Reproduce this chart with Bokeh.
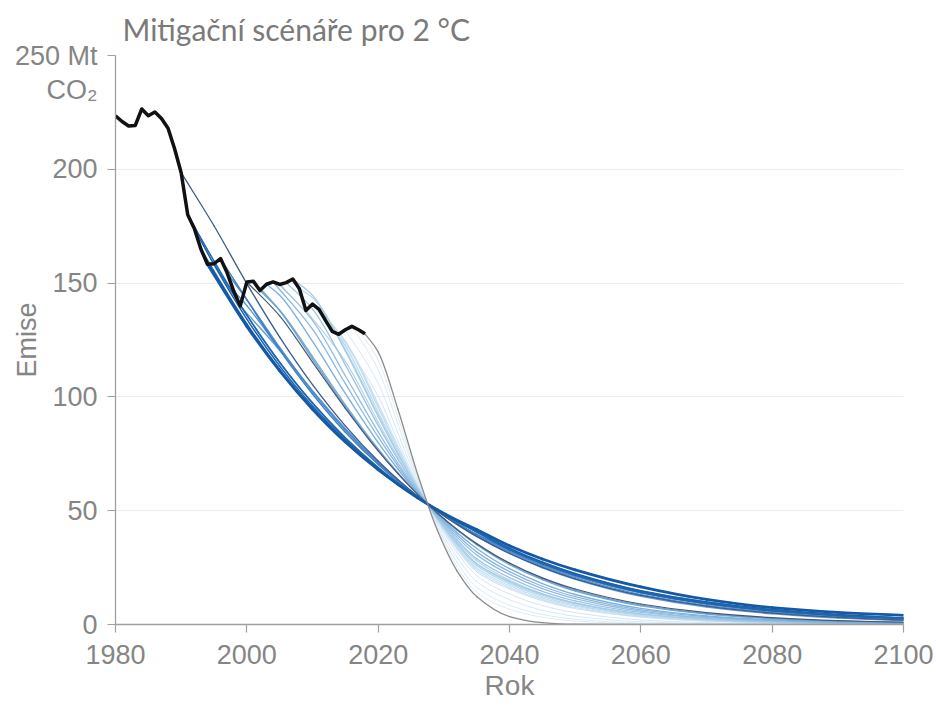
import math
from bokeh.plotting import figure
from bokeh.models import Range1d, FixedTicker, LinearAxis
from bokeh.embed import file_html
from bokeh.resources import INLINE

# Historical emissions (Mt CO2)
HIST_YEARS = list(range(1980, 2019))
HIST_VALUES = [223.5, 221.0, 219.0, 219.2, 226.5, 223.5, 225.2, 222.3, 218.0, 209.0,
               198.5, 180.0, 174.0, 165.0, 158.3, 158.5, 160.8, 154.5, 146.5, 140.0,
               150.5, 150.8, 146.7, 149.5, 150.5, 149.4, 150.2, 151.8, 147.5, 138.0,
               140.8, 138.5, 133.5, 128.8, 127.5, 129.5, 131.0, 129.5, 127.7]

# Years at which each mitigation scenario is read (only years >= start + 2 are used)
GRID_YEARS = [1995, 2000, 2005, 2010, 2015, 2020, 2023, 2026, 2029, 2032, 2035,
              2040, 2045, 2050, 2060, 2070, 2080, 2090, 2100]

# Mitigation scenarios: start year -> values at the grid years after the start
SCENARIOS = {
    1990: [175.2, 149.8, 126.3, 105.4, 87.3, 71.8, 63.7, 56.4, 49.8, 44.0, 38.7, 31.2, 25.1, 20.1, 12.8, 8.1, 5.0, 3.1, 1.9],
    1991: [159.7, 135.9, 115.1, 97.2, 81.9, 68.9, 62.1, 55.9, 50.3, 45.2, 40.7, 33.0, 26.8, 21.8, 14.2, 9.3, 6.1, 4.0, 2.6],
    1992: [158.1, 134.2, 113.6, 96.0, 81.1, 68.4, 61.8, 55.8, 50.4, 45.4, 40.8, 33.2, 27.1, 22.1, 14.5, 9.5, 6.3, 4.1, 2.7],
    1993: [155.1, 132.0, 112.1, 95.0, 80.5, 68.1, 61.6, 55.7, 50.4, 45.6, 41.0, 33.5, 27.4, 22.4, 14.8, 9.8, 6.5, 4.3, 2.8],
    1994: [131.0, 111.4, 94.6, 80.2, 68.0, 61.6, 55.7, 50.4, 45.8, 41.7, 34.6, 28.8, 24.0, 16.5, 11.0, 7.4, 5.3, 4.0],
    1995: [135.9, 115.3, 97.4, 82.1, 69.0, 62.1, 55.9, 50.3, 45.2, 40.6, 32.8, 26.6, 21.6, 14.0, 9.1, 5.9, 3.9, 2.5],
    1996: [142.7, 120.7, 101.3, 84.5, 70.3, 62.8, 56.1, 50.1, 44.6, 39.7, 32.7, 26.9, 22.1, 14.8, 9.9, 6.5, 4.3, 2.9],
    1997: [142.7, 121.7, 102.4, 85.4, 70.8, 63.1, 56.2, 50.0, 44.3, 39.3, 32.1, 26.1, 21.2, 13.9, 9.0, 5.8, 3.7, 2.4],
    1998: [140.1, 120.9, 102.4, 85.7, 71.1, 63.3, 56.3, 49.9, 44.2, 39.0, 31.7, 25.6, 20.6, 13.2, 8.4, 5.3, 3.3, 2.0],
    1999: [120.5, 102.7, 86.1, 71.4, 63.5, 56.3, 49.8, 44.0, 38.7, 31.2, 24.9, 19.9, 12.4, 7.7, 4.7, 2.8, 1.7],
    2000: [135.6, 115.3, 95.0, 76.3, 66.3, 57.2, 49.0, 41.8, 35.5, 27.0, 20.5, 15.6, 9.0, 5.2, 3.0, 1.7, 1.0],
    2001: [137.9, 116.6, 95.6, 76.5, 66.4, 57.2, 49.0, 41.8, 35.5, 26.7, 20.1, 15.1, 8.5, 4.8, 2.7, 1.5, 0.9],
    2002: [138.1, 117.7, 96.5, 77.1, 66.7, 57.3, 48.9, 41.5, 35.1, 26.3, 19.7, 14.7, 8.2, 4.6, 2.6, 1.4, 0.8],
    2003: [144.7, 124.4, 101.5, 79.9, 68.3, 57.8, 48.5, 40.4, 33.4, 24.5, 18.0, 13.2, 7.1, 3.8, 2.1, 1.1, 0.6],
    2004: [129.8, 105.8, 82.4, 69.7, 58.2, 48.1, 39.4, 31.9, 23.2, 16.8, 12.2, 6.4, 3.4, 1.8, 0.9, 0.5],
    2005: [133.6, 109.3, 84.6, 70.9, 58.6, 47.8, 38.4, 30.6, 22.0, 15.8, 11.4, 5.9, 3.0, 1.6, 0.8, 0.4],
    2006: [138.7, 114.1, 87.5, 72.6, 59.1, 47.3, 37.3, 28.9, 20.6, 14.6, 10.4, 5.3, 2.7, 1.4, 0.7, 0.3],
    2007: [144.6, 120.2, 91.4, 74.8, 59.8, 46.7, 35.8, 26.8, 18.9, 13.3, 9.4, 4.7, 2.3, 1.1, 0.6, 0.3],
    2008: [143.6, 120.9, 92.1, 75.3, 59.9, 46.6, 35.4, 26.3, 18.4, 12.9, 9.1, 4.5, 2.2, 1.1, 0.5, 0.3],
    2009: [115.6, 89.0, 73.5, 59.4, 47.1, 36.6, 28.0, 19.5, 13.6, 9.5, 4.6, 2.3, 1.1, 0.5, 0.3],
    2010: [122.4, 93.4, 76.0, 60.2, 46.4, 35.0, 25.8, 17.8, 12.3, 8.5, 4.1, 1.9, 0.9, 0.4, 0.2],
    2011: [124.5, 95.2, 77.1, 60.5, 46.1, 34.3, 24.9, 17.0, 11.6, 8.0, 3.7, 1.7, 0.8, 0.4, 0.2],
    2012: [124.3, 96.1, 77.7, 60.7, 45.9, 33.8, 24.1, 16.3, 11.0, 7.5, 3.4, 1.6, 0.7, 0.3, 0.2],
    2013: [123.8, 97.0, 78.5, 61.0, 45.7, 33.1, 23.3, 15.6, 10.5, 7.0, 3.2, 1.4, 0.6, 0.3, 0.1],
    2014: [100.3, 80.6, 61.6, 45.1, 31.7, 21.5, 13.4, 8.3, 5.2, 2.0, 0.8, 0.3, 0.1, 0.0],
    2015: [106.0, 84.1, 62.7, 44.2, 29.6, 18.9, 10.9, 6.3, 3.6, 1.2, 0.4, 0.1, 0.0, 0.0],
    2016: [112.0, 88.1, 63.9, 43.2, 27.4, 16.3, 8.5, 4.4, 2.3, 0.6, 0.2, 0.0, 0.0, 0.0],
    2017: [116.1, 91.4, 65.0, 42.3, 25.5, 14.2, 6.7, 3.2, 1.5, 0.3, 0.1, 0.0, 0.0, 0.0],
    2018: [119.8, 94.7, 66.1, 41.5, 23.6, 12.3, 3.5, 0.8, 0.1, 0.0, 0.0, 0.0, 0.0, 0.0],
}

X_TICKS = [1980, 2000, 2020, 2040, 2060, 2080, 2100]
Y_TICKS = [0, 50, 100, 150, 200, 250]
Y_LABELS = {0: "0", 50: "50", 100: "100", 150: "150", 200: "200", 250: "250 Mt"}
UNIT_LINE_AT = 235          # position of the unit's second line, under "250 Mt"
UNIT_LINE_TEXT = "CO₂"
TITLE = "Mitigační scénáře pro 2 °C"
X_LABEL = "Rok"
Y_LABEL = "Emise"

# Styles (colour, width) per scenario start year
STYLE = {
    1990: ("#3d5b8f", 1.3), 1991: ("#1f66b0", 1.5), 1992: ("#1c63ae", 1.5), 1993: ("#1a5fa9", 1.7),
    1994: ("#1559a5", 2.8), 1995: ("#2f73ba", 1.4), 1996: ("#3f80c2", 1.4), 1997: ("#4c8ac8", 1.4),
    1998: ("#5894cc", 1.4), 1999: ("#64a0d3", 1.4), 2000: ("#4a5873", 1.2), 2001: ("#6aa3d5", 1.4),
    2002: ("#74aad8", 1.4), 2003: ("#7fb1dc", 1.4), 2004: ("#8ab8df", 1.3), 2005: ("#93bee2", 1.3),
    2006: ("#9cc4e5", 1.3), 2007: ("#a5c9e8", 1.3), 2008: ("#addcea", 1.2), 2009: ("#b5d4ed", 1.2),
    2010: ("#bcd8ee", 1.2), 2011: ("#c2dcf0", 1.1), 2012: ("#c8e0f1", 1.1), 2013: ("#cde3f3", 1.1),
    2014: ("#d2e6f4", 1.0), 2015: ("#d6e8f5", 1.0), 2016: ("#daebf6", 1.0), 2017: ("#deedf7", 1.0),
    2018: ("#8c8c8c", 1.3),
}
HIST = dict(zip(HIST_YEARS, HIST_VALUES))
GREY_TXT = "#858585"
FONT = "Liberation Sans"


def smooth_segments(xs, ys):
    """Monotone cubic (Fritsch-Carlson) through the points, as Bezier segments."""
    n = len(xs)
    h = [xs[i + 1] - xs[i] for i in range(n - 1)]
    d = [(ys[i + 1] - ys[i]) / h[i] for i in range(n - 1)]
    m = [0.0] * n
    m[0], m[-1] = d[0], d[-1]
    for i in range(1, n - 1):
        if d[i - 1] * d[i] <= 0:
            m[i] = 0.0
        else:
            w1 = 2 * h[i] + h[i - 1]
            w2 = h[i] + 2 * h[i - 1]
            m[i] = (w1 + w2) / (w1 / d[i - 1] + w2 / d[i])
    seg = dict(x0=[], y0=[], x1=[], y1=[], cx0=[], cy0=[], cx1=[], cy1=[])
    for i in range(n - 1):
        seg["x0"].append(xs[i]); seg["y0"].append(ys[i])
        seg["x1"].append(xs[i + 1]); seg["y1"].append(ys[i + 1])
        seg["cx0"].append(xs[i] + h[i] / 3); seg["cy0"].append(ys[i] + m[i] * h[i] / 3)
        seg["cx1"].append(xs[i + 1] - h[i] / 3); seg["cy1"].append(ys[i + 1] - m[i + 1] * h[i] / 3)
    return seg


p = figure(width=934, height=708, x_range=Range1d(1980, 2100), y_range=Range1d(0, 250),
           output_backend="svg", toolbar_location=None,
           min_border_left=115, min_border_right=31, min_border_top=55, min_border_bottom=84)
p.outline_line_color = None
p.xgrid.grid_line_color = None
p.ygrid.ticker = FixedTicker(ticks=Y_TICKS)
p.ygrid.grid_line_color = "#ececec"
p.ygrid.grid_line_width = 1.2

# title
p.title.text = TITLE
p.title.text_font = "Lato"
p.title.text_font_size = "30px"
p.title.text_font_style = "normal"
p.title.text_color = "#7a7a7a"
p.title.align = "left"
p.title.offset = 7
p.title.standoff = 17

# x axis
xa = p.xaxis[0]
xa.ticker = FixedTicker(ticks=X_TICKS)
xa.axis_line_color = "#a0a0a0"
xa.axis_line_width = 1.3
xa.major_tick_line_color = "#a0a0a0"
xa.major_tick_line_width = 1.2
xa.major_tick_out = 8
xa.major_tick_in = 0
xa.minor_tick_line_color = None
xa.minor_tick_out = 0
xa.major_label_text_font = FONT
xa.major_label_text_font_size = "27px"
xa.major_label_text_color = GREY_TXT
xa.major_label_standoff = 12
xa.axis_label = X_LABEL
xa.axis_label_text_font = FONT
xa.axis_label_text_font_size = "28px"
xa.axis_label_text_font_style = "normal"
xa.axis_label_text_color = GREY_TXT
xa.axis_label_standoff = 3

# y axis: line and ticks only (next to the frame)
ya = p.yaxis[0]
ya.ticker = FixedTicker(ticks=Y_TICKS)
ya.axis_line_color = "#a0a0a0"
ya.axis_line_width = 1.3
ya.major_tick_line_color = "#a0a0a0"
ya.major_tick_line_width = 1.2
ya.major_tick_out = 8
ya.major_tick_in = 0
ya.minor_tick_line_color = None
ya.minor_tick_out = 0
ya.major_label_standoff = 0
ya.major_label_overrides = {t: "" for t in Y_TICKS}

# y axis: labels (outside the ticks)
label_overrides = dict(Y_LABELS)
label_overrides[UNIT_LINE_AT] = UNIT_LINE_TEXT
yl = LinearAxis(ticker=FixedTicker(ticks=Y_TICKS + [UNIT_LINE_AT]))
yl.major_label_overrides = label_overrides
yl.axis_line_color = None
yl.major_tick_line_color = None
yl.minor_tick_line_color = None
yl.major_tick_out = 0
yl.major_tick_in = 0
yl.minor_tick_out = 0
yl.minor_tick_in = 0
yl.major_label_text_font = FONT
yl.major_label_text_font_size = "27px"
yl.major_label_text_color = GREY_TXT
yl.major_label_standoff = 10
yl.axis_label = Y_LABEL
yl.axis_label_text_font = FONT
yl.axis_label_text_font_size = "27px"
yl.axis_label_text_font_style = "normal"
yl.axis_label_text_color = GREY_TXT
yl.axis_label_standoff = -30
p.add_layout(yl, "left")

order = list(range(2017, 1994, -1)) + [1993, 1992, 1991, 1990, 1994]
for s in order:
    xs = [s] + [g for g in GRID_YEARS if g >= s + 2]
    ys = [HIST[s]] + SCENARIOS[s]
    col, w = STYLE[s]
    p.bezier(line_color=col, line_width=w, line_cap="round", **smooth_segments(xs, ys))

xs = [2018] + [g for g in GRID_YEARS if g >= 2020]
ys = [HIST[2018]] + SCENARIOS[2018]
col, w = STYLE[2018]
p.bezier(line_color=col, line_width=w, line_cap="round", **smooth_segments(xs, ys))

p.line(HIST_YEARS, HIST_VALUES, line_color="#111111", line_width=3.5, line_join="round")

open("out.html", "w").write(file_html(p, INLINE))
